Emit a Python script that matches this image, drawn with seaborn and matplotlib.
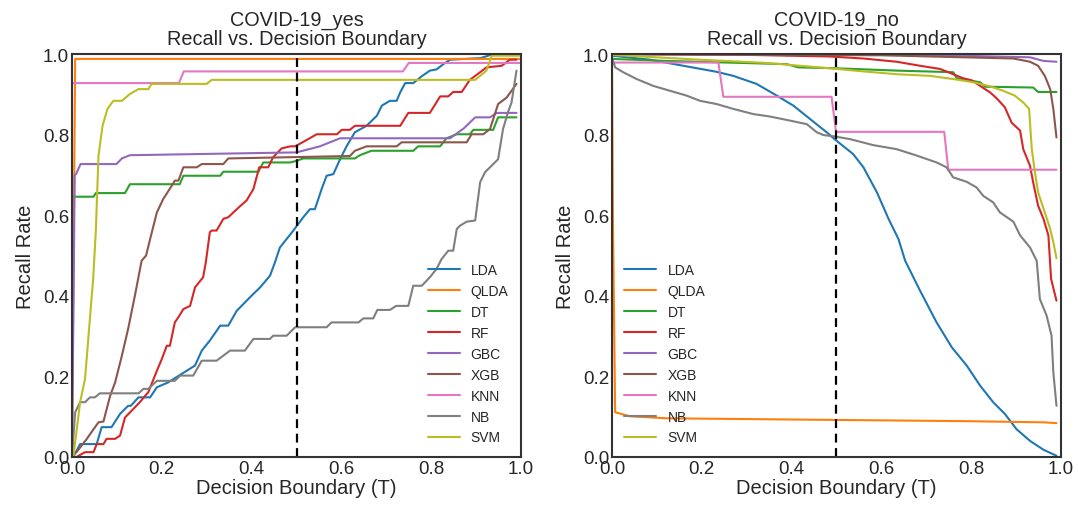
import numpy as np
import pandas as pd
import matplotlib
matplotlib.use("Agg")
import matplotlib.pyplot as plt
import seaborn as sns

models = ["LDA", "QLDA", "DT", "RF", "GBC", "XGB", "KNN", "NB", "SVM"]

# ---------------- COVID-19_yes ----------------
yes_LDA_x = [0.003, 0.018, 0.055, 0.066, 0.088, 0.107, 0.125, 0.131, 0.148, 0.174, 0.189, 0.214, 0.244, 0.274, 0.289, 0.307, 0.322, 0.33, 0.348, 0.367, 0.396, 0.419, 0.441, 0.452, 0.463, 0.478, 0.493, 0.515, 0.53, 0.541, 0.556, 0.567, 0.582, 0.597, 0.612, 0.63, 0.656, 0.679, 0.69, 0.708, 0.723, 0.731, 0.742, 0.76, 0.779, 0.797, 0.812, 0.827, 0.842, 0.91, 0.938]
yes_LDA_y = [0.0, 0.032, 0.032, 0.074, 0.074, 0.107, 0.127, 0.127, 0.148, 0.148, 0.173, 0.185, 0.206, 0.227, 0.264, 0.289, 0.313, 0.326, 0.326, 0.363, 0.396, 0.421, 0.45, 0.483, 0.52, 0.541, 0.562, 0.595, 0.615, 0.615, 0.665, 0.698, 0.702, 0.739, 0.772, 0.806, 0.822, 0.847, 0.872, 0.884, 0.884, 0.905, 0.928, 0.928, 0.945, 0.959, 0.962, 0.975, 0.986, 0.99, 1.0]

yes_QLDA_x = [0.0, 0.007, 1.0]
yes_QLDA_y = [0.0, 0.988, 0.988]

yes_DT_x = [0.0, 0.048, 0.053, 0.118, 0.129, 0.24, 0.248, 0.33, 0.337, 0.415, 0.426, 0.486, 0.5, 0.515, 0.63, 0.641, 0.667, 0.76, 0.771, 0.82, 0.834, 0.857, 0.886, 0.894, 0.938, 0.949, 0.99]
yes_DT_y = [0.646, 0.646, 0.655, 0.655, 0.677, 0.677, 0.698, 0.698, 0.708, 0.708, 0.731, 0.731, 0.735, 0.741, 0.741, 0.749, 0.76, 0.76, 0.771, 0.771, 0.791, 0.801, 0.801, 0.812, 0.812, 0.843, 0.843]

yes_RF_x = [0.01, 0.029, 0.048, 0.055, 0.07, 0.077, 0.096, 0.107, 0.118, 0.133, 0.151, 0.17, 0.189, 0.2, 0.211, 0.218, 0.229, 0.237, 0.248, 0.263, 0.274, 0.292, 0.298, 0.307, 0.311, 0.322, 0.337, 0.348, 0.367, 0.389, 0.404, 0.417, 0.437, 0.448, 0.467, 0.486, 0.497, 0.515, 0.545, 0.59, 0.601, 0.619, 0.63, 0.731, 0.749, 0.797, 0.82, 0.838, 0.849, 0.868, 0.886, 0.909, 0.923, 0.957, 0.975, 0.99]
yes_RF_y = [0.0, 0.012, 0.012, 0.032, 0.032, 0.045, 0.045, 0.053, 0.098, 0.115, 0.136, 0.161, 0.214, 0.243, 0.276, 0.276, 0.334, 0.347, 0.367, 0.375, 0.421, 0.446, 0.483, 0.558, 0.562, 0.562, 0.591, 0.595, 0.615, 0.637, 0.665, 0.719, 0.719, 0.744, 0.766, 0.771, 0.771, 0.782, 0.801, 0.801, 0.812, 0.812, 0.822, 0.822, 0.854, 0.854, 0.895, 0.895, 0.906, 0.906, 0.936, 0.955, 0.967, 0.971, 0.986, 0.986]

yes_GBC_x = [0.0, 0.006, 0.009, 0.019, 0.099, 0.111, 0.129, 0.5, 0.552, 0.597, 0.842, 0.872, 0.898, 0.931, 0.946, 0.99]
yes_GBC_y = [0.0, 0.70, 0.702, 0.727, 0.727, 0.741, 0.749, 0.756, 0.771, 0.791, 0.791, 0.815, 0.843, 0.843, 0.854, 0.854]

yes_XGB_x = [0.01, 0.033, 0.048, 0.059, 0.07, 0.085, 0.096, 0.111, 0.125, 0.14, 0.155, 0.165, 0.174, 0.189, 0.203, 0.222, 0.229, 0.237, 0.248, 0.278, 0.289, 0.337, 0.348, 0.619, 0.63, 0.656, 0.723, 0.734, 0.879, 0.89, 0.916, 0.931, 0.949, 0.968, 0.99]
yes_XGB_y = [0.012, 0.045, 0.069, 0.086, 0.088, 0.152, 0.185, 0.251, 0.318, 0.40, 0.487, 0.50, 0.541, 0.607, 0.64, 0.673, 0.686, 0.686, 0.719, 0.719, 0.727, 0.727, 0.741, 0.747, 0.76, 0.771, 0.771, 0.781, 0.781, 0.801, 0.801, 0.814, 0.876, 0.892, 0.926]

yes_KNN_x = [0.0, 0.238, 0.249, 0.737, 0.75, 1.0]
yes_KNN_y = [0.928, 0.928, 0.957, 0.957, 0.978, 0.978]

yes_NB_x = [0.0, 0.007, 0.018, 0.029, 0.04, 0.051, 0.062, 0.148, 0.159, 0.17, 0.189, 0.229, 0.241, 0.27, 0.289, 0.322, 0.352, 0.385, 0.404, 0.441, 0.448, 0.478, 0.497, 0.567, 0.578, 0.638, 0.649, 0.671, 0.68, 0.708, 0.722, 0.749, 0.76, 0.779, 0.797, 0.812, 0.823, 0.838, 0.849, 0.857, 0.864, 0.879, 0.898, 0.909, 0.92, 0.931, 0.949, 0.96, 0.972, 0.979, 0.987, 0.99]
yes_NB_y = [0.0, 0.111, 0.136, 0.136, 0.148, 0.148, 0.158, 0.158, 0.169, 0.169, 0.189, 0.189, 0.202, 0.202, 0.239, 0.239, 0.264, 0.264, 0.293, 0.293, 0.301, 0.301, 0.322, 0.322, 0.334, 0.334, 0.344, 0.344, 0.365, 0.365, 0.375, 0.375, 0.425, 0.425, 0.446, 0.467, 0.491, 0.512, 0.512, 0.566, 0.574, 0.584, 0.587, 0.682, 0.707, 0.719, 0.739, 0.814, 0.859, 0.88, 0.938, 0.959]

yes_SVM_x = [0.003, 0.018, 0.029, 0.044, 0.047, 0.051, 0.053, 0.059, 0.068, 0.079, 0.092, 0.111, 0.129, 0.148, 0.17, 0.177, 0.30, 0.311, 0.898, 0.923, 0.935, 1.0]
yes_SVM_y = [0.0, 0.136, 0.194, 0.40, 0.44, 0.52, 0.56, 0.748, 0.822, 0.864, 0.884, 0.884, 0.901, 0.913, 0.913, 0.926, 0.926, 0.936, 0.936, 0.959, 0.996, 0.996]

# ---------------- COVID-19_no ----------------
no_LDA_x = [0.0, 0.085, 0.159, 0.233, 0.27, 0.322, 0.367, 0.404, 0.441, 0.478, 0.5, 0.537, 0.56, 0.59, 0.616, 0.638, 0.653, 0.686, 0.723, 0.757, 0.79, 0.82, 0.849, 0.875, 0.901, 0.931, 0.961, 0.99]
no_LDA_y = [0.996, 0.986, 0.971, 0.956, 0.946, 0.926, 0.897, 0.872, 0.839, 0.806, 0.785, 0.752, 0.719, 0.657, 0.591, 0.541, 0.487, 0.413, 0.334, 0.272, 0.227, 0.177, 0.136, 0.107, 0.069, 0.04, 0.018, 0.003]

no_QLDA_x = [0.0, 0.002, 0.007, 0.04, 0.122, 0.493, 0.782, 0.961, 0.99]
no_QLDA_y = [1.0, 0.6, 0.111, 0.101, 0.096, 0.092, 0.089, 0.086, 0.084]

no_DT_x = [0.0, 0.122, 0.389, 0.415, 0.493, 0.634, 0.76, 0.768, 0.82, 0.831, 0.938, 0.949, 0.99]
no_DT_y = [0.988, 0.983, 0.975, 0.967, 0.965, 0.959, 0.955, 0.94, 0.93, 0.919, 0.917, 0.906, 0.906]

no_RF_x = [0.0, 0.3, 0.485, 0.56, 0.634, 0.686, 0.731, 0.76, 0.782, 0.801, 0.82, 0.842, 0.857, 0.875, 0.89, 0.909, 0.916, 0.931, 0.938, 0.949, 0.961, 0.972, 0.978, 0.99]
no_RF_y = [1.0, 0.998, 0.994, 0.989, 0.981, 0.971, 0.963, 0.95, 0.94, 0.935, 0.921, 0.905, 0.89, 0.868, 0.83, 0.81, 0.764, 0.723, 0.682, 0.624, 0.591, 0.55, 0.442, 0.388]

no_GBC_x = [0.0, 0.7, 0.931, 0.961, 0.99]
no_GBC_y = [1.0, 0.998, 0.992, 0.983, 0.981]

no_XGB_x = [0.0, 0.6, 0.894, 0.931, 0.949, 0.964, 0.976, 0.983, 0.99]
no_XGB_y = [1.0, 0.997, 0.989, 0.981, 0.971, 0.946, 0.913, 0.864, 0.793]

no_KNN_x = [0.0, 0.237, 0.248, 0.489, 0.499, 0.74, 0.749, 0.99]
no_KNN_y = [0.979, 0.979, 0.894, 0.894, 0.807, 0.807, 0.713, 0.713]

no_NB_x = [0.0, 0.007, 0.025, 0.055, 0.092, 0.129, 0.166, 0.196, 0.233, 0.27, 0.315, 0.352, 0.396, 0.434, 0.456, 0.471, 0.493, 0.53, 0.582, 0.634, 0.679, 0.723, 0.745, 0.76, 0.79, 0.812, 0.827, 0.849, 0.864, 0.894, 0.909, 0.931, 0.946, 0.953, 0.968, 0.979, 0.983, 0.99]
no_NB_y = [0.992, 0.967, 0.955, 0.938, 0.921, 0.909, 0.897, 0.884, 0.876, 0.864, 0.851, 0.845, 0.835, 0.826, 0.806, 0.799, 0.796, 0.789, 0.774, 0.764, 0.748, 0.731, 0.719, 0.694, 0.683, 0.669, 0.648, 0.632, 0.607, 0.584, 0.55, 0.52, 0.487, 0.392, 0.351, 0.301, 0.21, 0.127]

no_SVM_x = [0.0, 0.196, 0.345, 0.493, 0.56, 0.634, 0.708, 0.76, 0.805, 0.842, 0.871, 0.897, 0.916, 0.929, 0.935, 0.942, 0.949, 0.964, 0.976, 0.983, 0.99]
no_SVM_y = [0.998, 0.986, 0.978, 0.964, 0.957, 0.95, 0.946, 0.938, 0.93, 0.92, 0.909, 0.897, 0.88, 0.864, 0.764, 0.707, 0.657, 0.607, 0.566, 0.533, 0.493]

yes_data = {
    "LDA": (yes_LDA_x, yes_LDA_y), "QLDA": (yes_QLDA_x, yes_QLDA_y), "DT": (yes_DT_x, yes_DT_y),
    "RF": (yes_RF_x, yes_RF_y), "GBC": (yes_GBC_x, yes_GBC_y), "XGB": (yes_XGB_x, yes_XGB_y),
    "KNN": (yes_KNN_x, yes_KNN_y), "NB": (yes_NB_x, yes_NB_y), "SVM": (yes_SVM_x, yes_SVM_y),
}
no_data = {
    "LDA": (no_LDA_x, no_LDA_y), "QLDA": (no_QLDA_x, no_QLDA_y), "DT": (no_DT_x, no_DT_y),
    "RF": (no_RF_x, no_RF_y), "GBC": (no_GBC_x, no_GBC_y), "XGB": (no_XGB_x, no_XGB_y),
    "KNN": (no_KNN_x, no_KNN_y), "NB": (no_NB_x, no_NB_y), "SVM": (no_SVM_x, no_SVM_y),
}


def to_frame(d):
    rows = []
    for m in models:
        xs, ys = d[m]
        for i, (x, y) in enumerate(zip(xs, ys)):
            rows.append({"model": m, "T": x, "recall": y, "order": i})
    return pd.DataFrame(rows)


sns.set_style("white")
plt.rcParams["font.family"] = ["Liberation Sans", "DejaVu Sans"]
plt.rcParams["axes.edgecolor"] = "#333333"
plt.rcParams["axes.linewidth"] = 1.5

fig = plt.figure(figsize=(10.78, 5.10), dpi=100)
ax1 = fig.add_axes([0.0668, 0.102, 0.4165, 0.790])
ax2 = fig.add_axes([0.5677, 0.102, 0.4165, 0.790])

palette = sns.color_palette("tab10", 9)

for ax, d, title, loc in [(ax1, yes_data, "COVID-19_yes", "lower right"),
                          (ax2, no_data, "COVID-19_no", "lower left")]:
    df = to_frame(d)
    sns.lineplot(data=df, x="T", y="recall", hue="model", hue_order=models,
                 palette=palette, estimator=None, sort=False, units="model",
                 linewidth=1.5, ax=ax)
    ax.axvline(0.5, color="black", linestyle="--", linewidth=1.6, dashes=(4, 2.5))
    ax.set_xlim(0, 1)
    ax.set_ylim(0, 1)
    ax.set_xticks([0, 0.2, 0.4, 0.6, 0.8, 1.0])
    ax.set_yticks([0, 0.2, 0.4, 0.6, 0.8, 1.0])
    ax.tick_params(labelsize=13.5, pad=2, length=0)
    ax.set_title(title + "\nRecall vs. Decision Boundary", fontsize=14.3, pad=7,
                 linespacing=1.05)
    ax.set_xlabel("Decision Boundary (T)", fontsize=14.5, labelpad=1)
    ax.set_ylabel("Recall Rate", fontsize=14.5, labelpad=6)
    leg = ax.legend(loc=loc, frameon=False, fontsize=10, handlelength=2.3)
    for line in leg.get_lines():
        line.set_linewidth(1.5)

fig.savefig("out.png", dpi=100)
